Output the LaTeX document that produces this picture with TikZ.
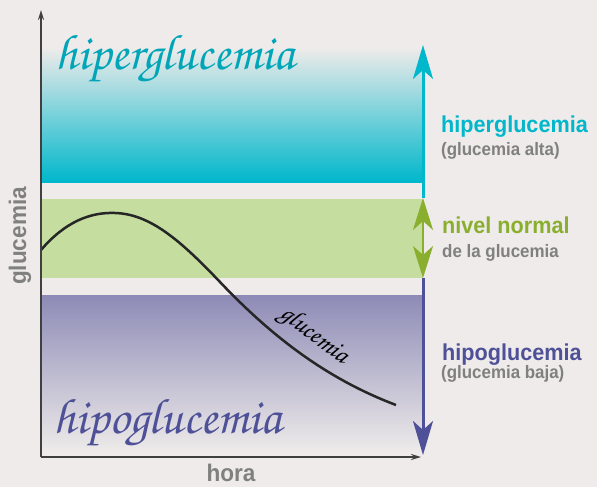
\documentclass[tikz,border=0pt]{standalone}
\usepackage{fontspec}
\newfontfamily\etikett{Liberation Sans}[FakeStretch=0.94]
\newfontfamily\handschrift{TeX Gyre Chorus}
\usetikzlibrary{arrows.meta}
\definecolor{hintergrund}{RGB}{238,235,234}
\definecolor{tuerkis}{RGB}{0,183,203}
\definecolor{hellgruen}{RGB}{197,222,159}
\definecolor{gruen}{RGB}{138,175,46}
\definecolor{lila}{RGB}{141,139,182}
\definecolor{dunkellila}{RGB}{78,81,151}
\definecolor{textgrau}{RGB}{128,128,128}
\definecolor{achsgrau}{RGB}{64,64,64}

\begin{document}
\begin{tikzpicture}[x=1pt, y=-1pt,
    titel/.style={font=\etikett\bfseries\fontsize{23}{23}\selectfont, anchor=base west, inner sep=0pt},
    zusatz/.style={font=\etikett\bfseries\fontsize{18}{18}\selectfont, anchor=base west, inner sep=0pt, text=textgrau},
    achsentext/.style={font=\etikett\bfseries\fontsize{24}{24}\selectfont, anchor=base, inner sep=0pt, text=textgrau},
    skript/.style={font=\handschrift\fontsize{50}{50}\selectfont, anchor=base west, inner sep=0pt},
    spitze/.tip={Stealth[length=34pt, width=20pt, inset=9pt]},
    kleinspitze/.tip={Stealth[length=10pt, width=6pt]}
]

    % Hintergrund und Bildgroesse
    \fill[hintergrund] (0,0) rectangle (597,487);
    \useasboundingbox (0,0) rectangle (597,487);

    % Bereiche der Glukosewerte
    \shade[top color=hintergrund, middle color=tuerkis!38!hintergrund, bottom color=tuerkis] (41,48) rectangle (423,182);
    \fill[hellgruen] (41,199) rectangle (423,278);
    \shade[top color=lila, bottom color=hintergrund] (41,295) rectangle (423,452);

    % Verlauf der Glukose
    \draw[line width=2.5pt, black!85] (41,250) .. controls (65,222) and (90,212) .. (115,213)
        .. controls (150,214) and (180,240) .. (220,282)
        .. controls (275,340) and (330,380) .. (396,405);
    \node[font=\handschrift\fontsize{26}{26}\selectfont, rotate=-37, inner sep=0pt] (kurve) at (314,336) {glucemia};

    % Achsen zeichnen
    \coordinate (ursprung) at (41,457);
    \coordinate (yende) at (41,10);
    \coordinate (xende) at (421,457);
    \draw[achsgrau, line width=2pt, -kleinspitze] (ursprung) -- (yende);
    \draw[achsgrau, line width=2pt, -kleinspitze] (ursprung) -- (xende);
    \node[achsentext, rotate=90] (ylabel) at (26,236) {glucemia};
    \node[achsentext] (xlabel) at (231,481) {hora};

    % Skala rechts
    \coordinate (skala oben) at (423,45);
    \coordinate (normal oben) at (423,198);
    \coordinate (normal unten) at (423,278);
    \coordinate (skala unten) at (423,455);
    \draw[tuerkis, line width=3pt, -spitze] (normal oben) -- (skala oben);
    \draw[dunkellila, line width=3pt, -spitze] (normal unten) -- (skala unten);
    \draw[gruen, line width=2.5pt, {Stealth[length=32pt, width=20pt, inset=9pt]}-{Stealth[length=32pt, width=20pt, inset=9pt]}] (normal oben) -- (normal unten);

    % Beschriftungen rechts
    \node[titel, text=tuerkis] (hyper) at (441,132) {hiperglucemia};
    \node[zusatz] (hyperzusatz) at (441,155) {(glucemia alta)};
    \node[titel, text=gruen] (normal) at (442,233) {nivel normal};
    \node[zusatz] (normalzusatz) at (442,257) {de la glucemia};
    \node[titel, text=dunkellila] (hypo) at (442,360) {hipoglucemia};
    \node[zusatz] (hypozusatz) at (441,378) {(glucemia baja)};

    % Handschrift in den Bereichen
    \node[skript, text=tuerkis!90!black] (hyperskript) at (55,70) {hiperglucemia};
    \node[skript, text=dunkellila] (hyposkript) at (53,433) {hipoglucemia};
\end{tikzpicture}
\end{document}
